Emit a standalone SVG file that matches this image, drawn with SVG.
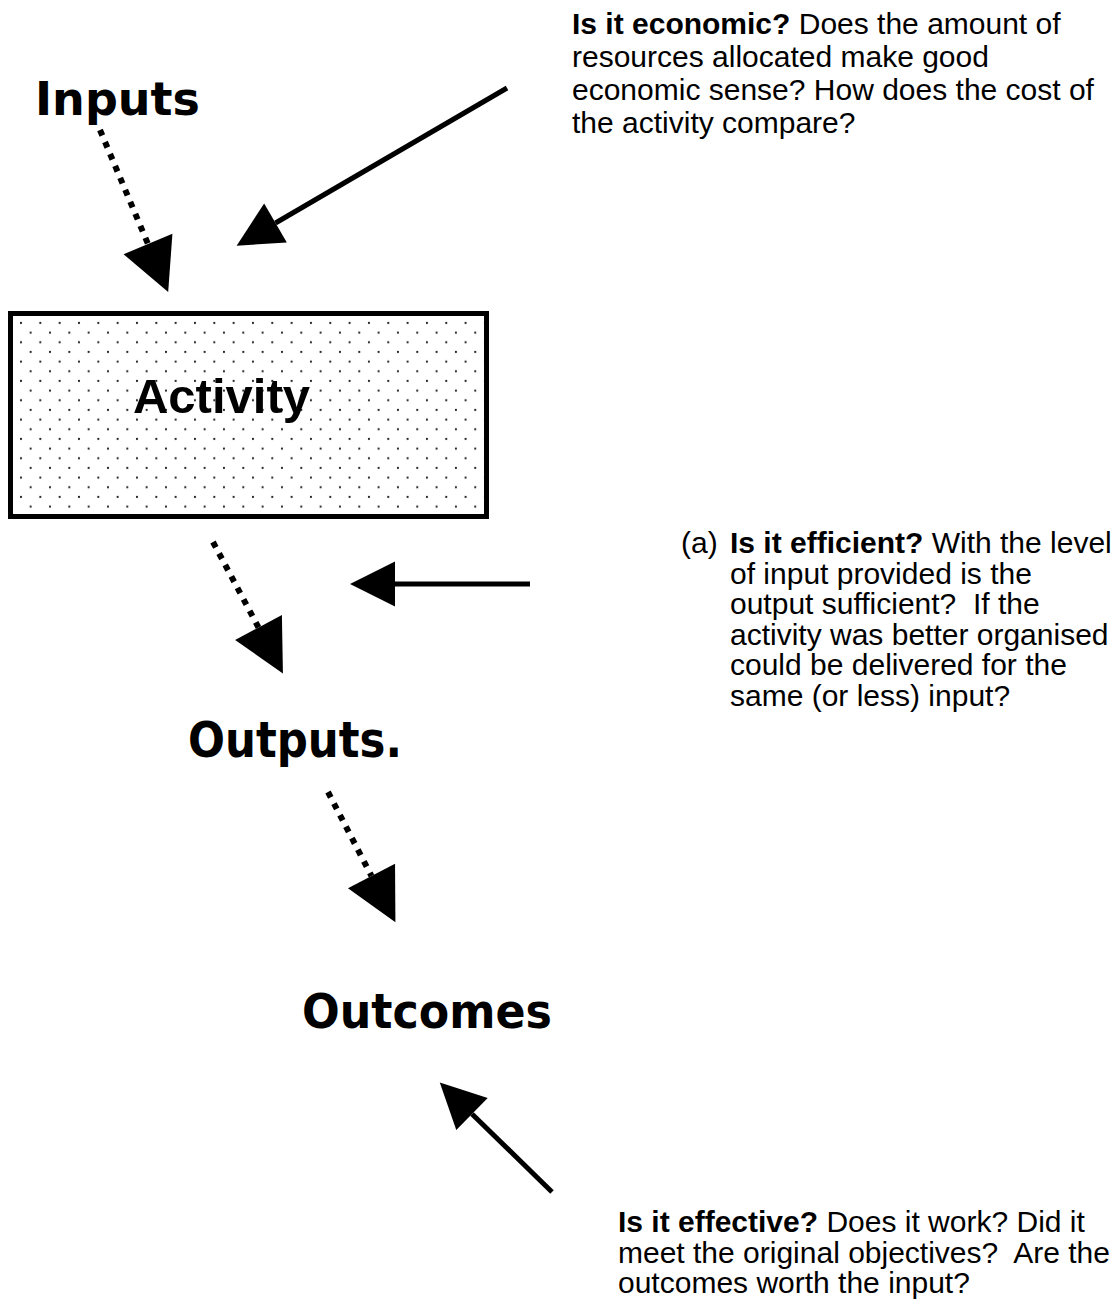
<svg xmlns="http://www.w3.org/2000/svg" width="1117" height="1307" viewBox="0 0 1117 1307">
  <style>
    .title { font-family: "DejaVu Sans", Verdana, sans-serif; font-weight: bold; fill: #000; }
    .act { font-family: "Liberation Sans", Arial, sans-serif; font-weight: bold; font-size: 49px; fill: #000; }
    .body { font-family: "Liberation Sans", Arial, sans-serif; font-size: 30px; fill: #000; white-space: pre; }
    .b { font-weight: bold; }
    .solid { stroke: #000; stroke-width: 5; fill: none; }
    .dotted { stroke: #000; stroke-width: 6; stroke-dasharray: 6 7; fill: none; }
  </style>
  <defs>
    <pattern id="dots" patternUnits="userSpaceOnUse" x="11.33" y="313.33" width="19.33" height="19.33">
      <circle cx="9.67" cy="9.67" r="1.1" fill="#222"/>
      <circle cx="0" cy="0" r="1.1" fill="#222"/>
      <circle cx="19.33" cy="0" r="1.1" fill="#222"/>
      <circle cx="0" cy="19.33" r="1.1" fill="#222"/>
      <circle cx="19.33" cy="19.33" r="1.1" fill="#222"/>
    </pattern>
    <marker id="headBig" markerUnits="userSpaceOnUse" markerWidth="53" markerHeight="54" refX="0" refY="26.5" orient="auto" overflow="visible">
      <path d="M0,0 L52,26.5 L0,53 Z" fill="#000"/>
    </marker>
    <marker id="headSmall" markerUnits="userSpaceOnUse" markerWidth="46" markerHeight="46" refX="0" refY="22.5" orient="auto" overflow="visible">
      <path d="M0,0 L45,22.5 L0,45 Z" fill="#000"/>
    </marker>
  </defs>

  <g id="inputs">
    <text class="title" x="35" y="115" font-size="46" textLength="165" lengthAdjust="spacingAndGlyphs">Inputs</text>
  </g>

  <g id="activity">
    <rect x="10.5" y="313.5" width="476" height="203" fill="#fff"/>
    <rect x="10.5" y="313.5" width="476" height="203" fill="url(#dots)" stroke="#000" stroke-width="5"/>
    <text class="act" x="221.5" y="413" text-anchor="middle">Activity</text>
  </g>

  <g id="outputs">
    <text class="title" x="188" y="757" font-size="50" textLength="214" lengthAdjust="spacingAndGlyphs">Outputs.</text>
  </g>

  <g id="outcomes">
    <text class="title" x="302" y="1028" font-size="48" textLength="250" lengthAdjust="spacingAndGlyphs">Outcomes</text>
  </g>

  <g id="economic-note">
    <text class="body" x="572" y="34"><tspan class="b">Is it economic?</tspan> Does the amount of</text>
    <text class="body" x="572" y="67">resources allocated make good</text>
    <text class="body" x="572" y="100">economic sense? How does the cost of</text>
    <text class="body" x="572" y="133">the activity compare?</text>
  </g>

  <g id="efficient-note">
    <text class="body" x="681" y="553">(a)</text>
    <text class="body" x="730" y="553"><tspan class="b">Is it efficient?</tspan> With the level</text>
    <text class="body" x="730" y="583.5">of input provided is the</text>
    <text class="body" x="730" y="614">output sufficient?  If the</text>
    <text class="body" x="730" y="644.5">activity was better organised</text>
    <text class="body" x="730" y="675">could be delivered for the</text>
    <text class="body" x="730" y="705.5">same (or less) input?</text>
  </g>

  <g id="effective-note">
    <text class="body" x="618" y="1232"><tspan class="b">Is it effective?</tspan> Does it work? Did it</text>
    <text class="body" x="618" y="1262.5">meet the original objectives?  Are the</text>
    <text class="body" x="618" y="1293">outcomes worth the input?</text>
  </g>

  <g id="connectors">
    <path class="dotted" d="M100,130 L148,244" marker-end="url(#headBig)"/>
    <path class="dotted" d="M213,542 L258.5,627.5" marker-end="url(#headBig)"/>
    <path class="dotted" d="M328,792 L371.5,876" marker-end="url(#headBig)"/>
    <path class="solid" d="M507,88 L275.5,223" marker-end="url(#headSmall)"/>
    <path class="solid" d="M530,584 L395,584" marker-end="url(#headSmall)"/>
    <path class="solid" d="M552,1192 L472,1114" marker-end="url(#headSmall)"/>
  </g>
</svg>
